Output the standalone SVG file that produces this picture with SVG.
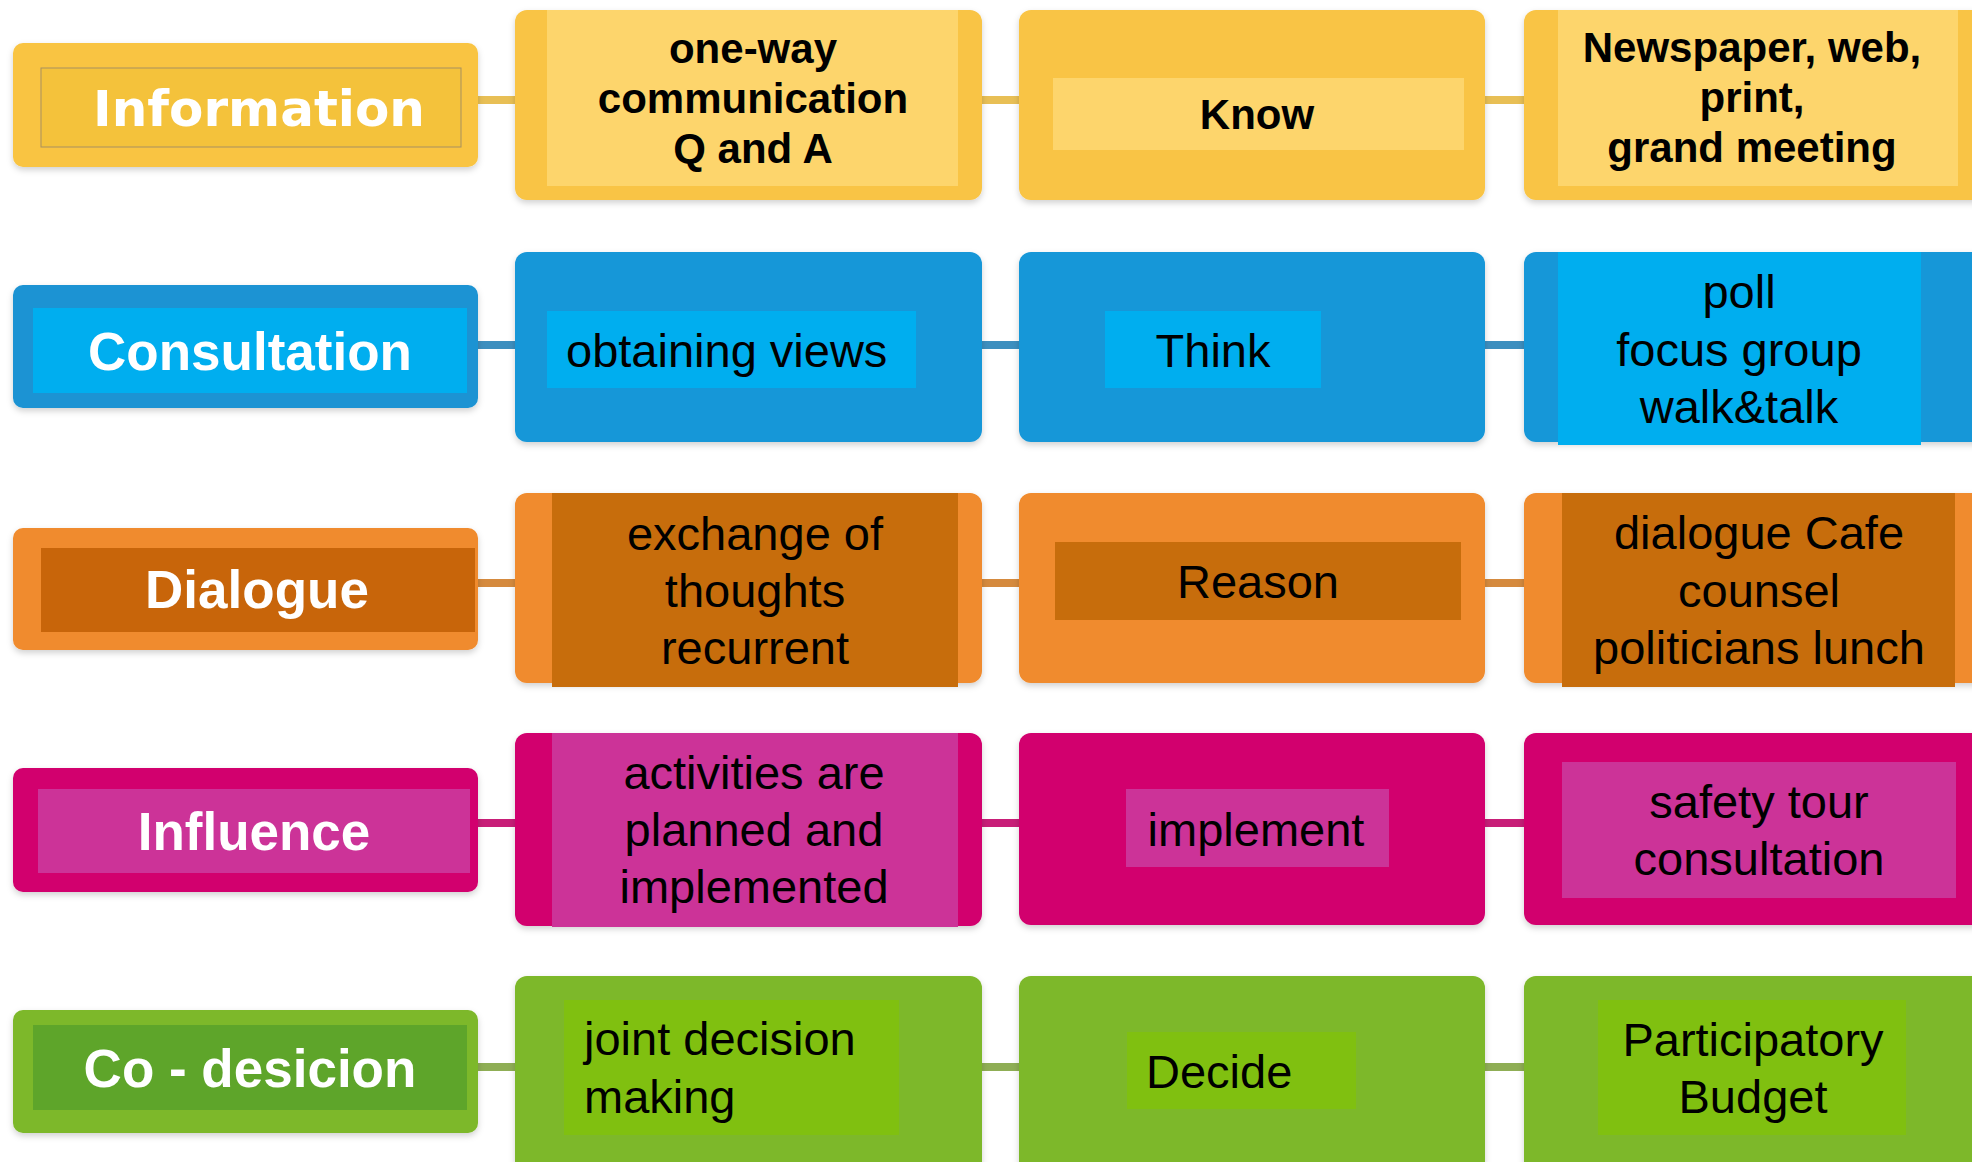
<svg xmlns="http://www.w3.org/2000/svg" width="1972" height="1162" viewBox="0 0 1972 1162">
<defs>
<filter id="sh" x="-5%" y="-5%" width="110%" height="115%"><feDropShadow dx="0" dy="3" stdDeviation="3" flood-color="#000" flood-opacity="0.18"/></filter>
<style>
.box{filter:url(#sh)}
.lbl{font-family:"Liberation Sans",Arial,sans-serif;font-weight:bold;font-size:53px;fill:#fff;text-anchor:middle}
.lblv{font-family:"DejaVu Sans",Verdana,sans-serif;font-weight:bold;font-size:50px;fill:#fff;text-anchor:middle}
.tb{font-family:"Liberation Sans",Arial,sans-serif;font-weight:bold;font-size:42px;fill:#000;text-anchor:middle}
.tr{font-family:"Liberation Sans",Arial,sans-serif;font-size:47px;fill:#000;text-anchor:middle}
.trl{font-family:"Liberation Sans",Arial,sans-serif;font-size:47px;fill:#000}
.c1{stroke:#e8bf55;stroke-width:8}
.c2{stroke:#3d8fbf;stroke-width:8}
.c3{stroke:#d58a3e;stroke-width:8}
.c4{stroke:#c81e78;stroke-width:8}
.c5{stroke:#8fae55;stroke-width:8}
</style>
</defs>
<rect width="1972" height="1162" fill="#fff"/>
<g id="connectors">
<line class="c1" x1="470" y1="100" x2="1530" y2="100"/>
<line class="c2" x1="470" y1="345" x2="1530" y2="345"/>
<line class="c3" x1="470" y1="583" x2="1530" y2="583"/>
<line class="c4" x1="470" y1="823" x2="1530" y2="823"/>
<line class="c5" x1="470" y1="1067" x2="1530" y2="1067"/>
</g>

<!-- Row 1 -->
<g id="information">
<rect class="box" x="13" y="43" width="465" height="124" rx="10" fill="#f9c443"/>
<rect x="41" y="68" width="420" height="79" fill="#f4c23b" stroke="#a89060" stroke-width="1"/>
<text class="lblv" x="259" y="126">Information</text>
</g>
<g id="one-way">
<rect class="box" x="515" y="10" width="467" height="190" rx="12" fill="#f9c445"/>
<rect x="547" y="10" width="411" height="176" fill="#fdd56c"/>
<text class="tb" x="753" y="63">one-way</text>
<text class="tb" x="753" y="113">communication</text>
<text class="tb" x="753" y="163">Q and A</text>
</g>
<g id="know">
<rect class="box" x="1019" y="10" width="466" height="190" rx="12" fill="#f9c445"/>
<rect x="1053" y="78" width="411" height="72" fill="#fdd56c"/>
<text class="tb" x="1257" y="129">Know</text>
</g>
<g id="newspaper">
<rect class="box" x="1524" y="10" width="470" height="190" rx="12" fill="#f9c445"/>
<rect x="1558" y="10" width="400" height="176" fill="#fdd56c"/>
<text class="tb" x="1752" y="62">Newspaper, web,</text>
<text class="tb" x="1752" y="112">print,</text>
<text class="tb" x="1752" y="162">grand meeting</text>
</g>

<!-- Row 2 -->
<g id="consultation">
<rect class="box" x="13" y="285" width="465" height="123" rx="10" fill="#1b93d3"/>
<rect x="33" y="308" width="434" height="85" fill="#00aeef"/>
<text class="lbl" x="250" y="370">Consultation</text>
</g>
<g id="obtaining">
<rect class="box" x="515" y="252" width="467" height="190" rx="12" fill="#1997d8"/>
<rect x="547" y="311" width="369" height="77" fill="#00aeef"/>
<text class="trl" x="566" y="367">obtaining views</text>
</g>
<g id="think">
<rect class="box" x="1019" y="252" width="466" height="190" rx="12" fill="#1997d8"/>
<rect x="1105" y="311" width="216" height="77" fill="#00aeef"/>
<text class="tr" x="1213" y="367">Think</text>
</g>
<g id="poll">
<rect class="box" x="1524" y="252" width="470" height="190" rx="12" fill="#1997d8"/>
<rect x="1558" y="252" width="363" height="193" fill="#00aeef"/>
<text class="tr" x="1739" y="308">poll</text>
<text class="tr" x="1739" y="366">focus group</text>
<text class="tr" x="1739" y="423">walk&amp;talk</text>
</g>

<!-- Row 3 -->
<g id="dialogue">
<rect class="box" x="13" y="528" width="465" height="122" rx="10" fill="#f08b2d"/>
<rect x="41" y="548" width="434" height="84" fill="#c8650a"/>
<text class="lbl" x="257" y="608">Dialogue</text>
</g>
<g id="exchange">
<rect class="box" x="515" y="493" width="467" height="190" rx="12" fill="#f08b2d"/>
<rect x="552" y="493" width="406" height="194" fill="#c76d0c"/>
<text class="tr" x="755" y="550">exchange of</text>
<text class="tr" x="755" y="607">thoughts</text>
<text class="tr" x="755" y="664">recurrent</text>
</g>
<g id="reason">
<rect class="box" x="1019" y="493" width="466" height="190" rx="12" fill="#f08b2d"/>
<rect x="1055" y="542" width="406" height="78" fill="#c76d0c"/>
<text class="tr" x="1258" y="598">Reason</text>
</g>
<g id="dialogue-cafe">
<rect class="box" x="1524" y="493" width="470" height="190" rx="12" fill="#f08b2d"/>
<rect x="1562" y="493" width="393" height="194" fill="#c76d0c"/>
<text class="tr" x="1759" y="549">dialogue Cafe</text>
<text class="tr" x="1759" y="607">counsel</text>
<text class="tr" x="1759" y="664">politicians lunch</text>
</g>

<!-- Row 4 -->
<g id="influence">
<rect class="box" x="13" y="768" width="465" height="124" rx="10" fill="#d2006e"/>
<rect x="38" y="789" width="432" height="84" fill="#cc3398"/>
<text class="lbl" x="254" y="850">Influence</text>
</g>
<g id="activities">
<rect class="box" x="515" y="733" width="467" height="193" rx="12" fill="#d2006e"/>
<rect x="552" y="733" width="406" height="194" fill="#cc3398"/>
<text class="tr" x="754" y="789">activities are</text>
<text class="tr" x="754" y="846">planned and</text>
<text class="tr" x="754" y="903">implemented</text>
</g>
<g id="implement">
<rect class="box" x="1019" y="733" width="466" height="192" rx="12" fill="#d2006e"/>
<rect x="1126" y="789" width="263" height="78" fill="#cc3398"/>
<text class="tr" x="1256" y="846">implement</text>
</g>
<g id="safety">
<rect class="box" x="1524" y="733" width="470" height="192" rx="12" fill="#d2006e"/>
<rect x="1562" y="762" width="394" height="136" fill="#cc3398"/>
<text class="tr" x="1759" y="818">safety tour</text>
<text class="tr" x="1759" y="875">consultation</text>
</g>

<!-- Row 5 -->
<g id="co-desicion">
<rect class="box" x="13" y="1010" width="465" height="123" rx="10" fill="#7db82a"/>
<rect x="33" y="1025" width="434" height="85" fill="#5ea52a"/>
<text class="lbl" x="250" y="1087">Co - desicion</text>
</g>
<g id="joint">
<rect class="box" x="515" y="976" width="467" height="210" rx="12" fill="#7db82a"/>
<rect x="564" y="1000" width="335" height="135" fill="#80c010"/>
<text class="trl" x="584" y="1055">joint decision</text>
<text class="trl" x="584" y="1113">making</text>
</g>
<g id="decide">
<rect class="box" x="1019" y="976" width="466" height="210" rx="12" fill="#7db82a"/>
<rect x="1127" y="1032" width="229" height="77" fill="#80c010"/>
<text class="trl" x="1146" y="1088">Decide</text>
</g>
<g id="budget">
<rect class="box" x="1524" y="976" width="470" height="210" rx="12" fill="#7db82a"/>
<rect x="1598" y="1000" width="308" height="135" fill="#80c010"/>
<text class="tr" x="1753" y="1056">Participatory</text>
<text class="tr" x="1753" y="1113">Budget</text>
</g>
</svg>
